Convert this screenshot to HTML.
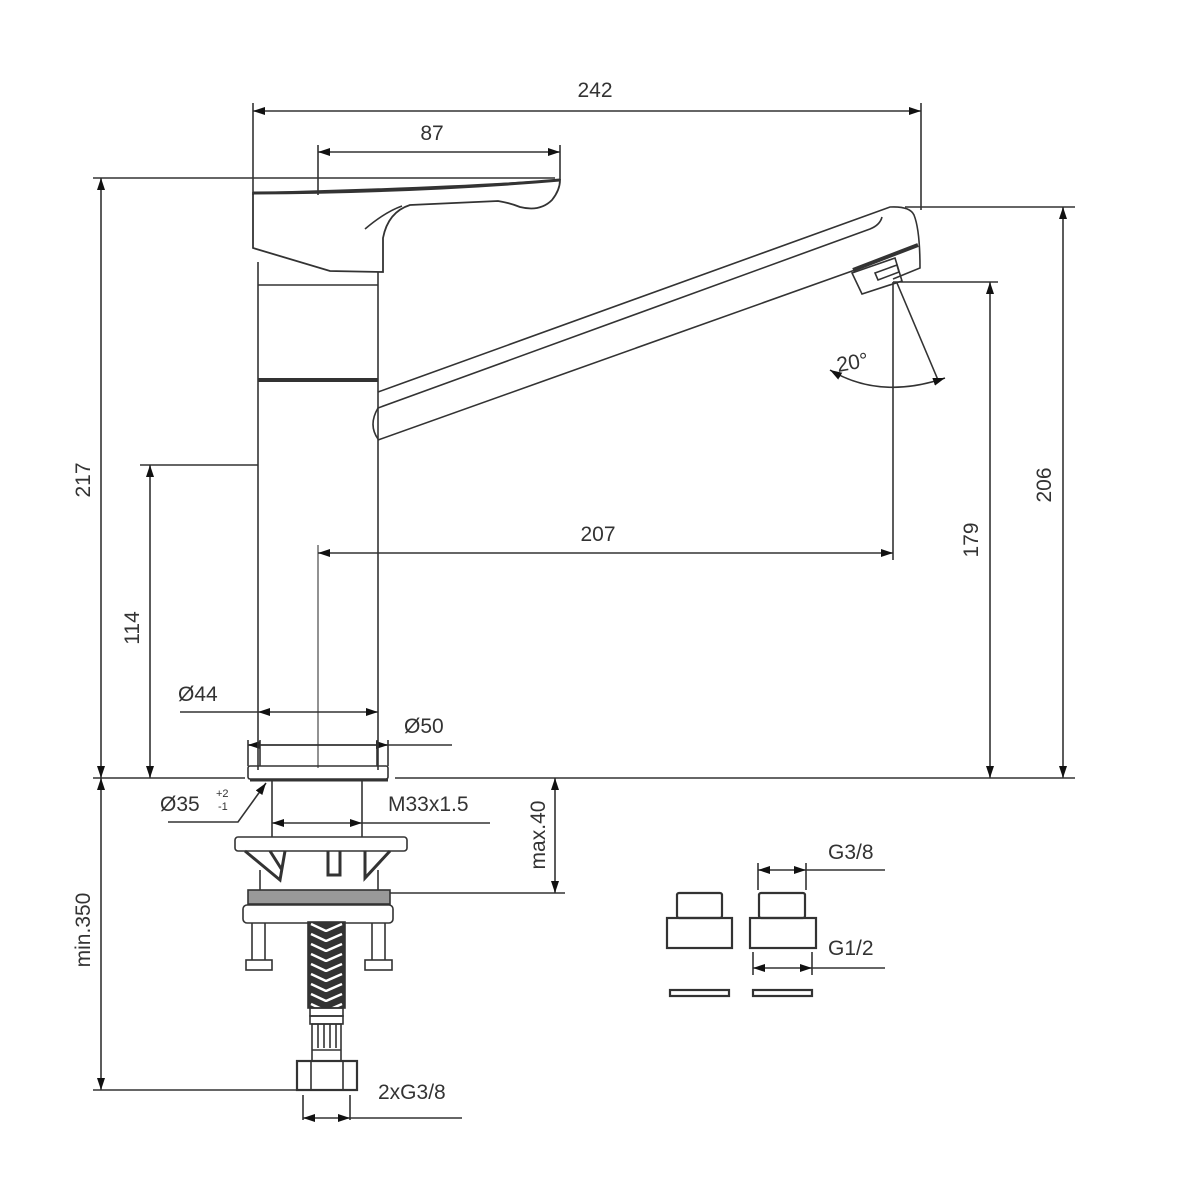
<!DOCTYPE html>
<html><head><meta charset="utf-8"><style>
html,body{margin:0;padding:0;background:#fff;}
svg{display:block;}
text{font-family:"Liberation Sans",sans-serif;font-size:21px;fill:#333;}
</style></head><body>
<svg width="1200" height="1200" viewBox="0 0 1200 1200" xmlns="http://www.w3.org/2000/svg">
<defs>
<marker id="a" viewBox="0 0 12 8" refX="12" refY="4" markerWidth="12" markerHeight="8" markerUnits="userSpaceOnUse" orient="auto-start-reverse"><path d="M0,0 L12,4 L0,8 z" fill="#111"/></marker>
<pattern id="braid" width="37" height="10" patternUnits="userSpaceOnUse" x="308" y="922">
<rect width="37" height="10" fill="#333"/>
<path d="M3,2 L18,9 L34,2" stroke="#fff" stroke-width="2.5" fill="none"/>
</pattern>
</defs>
<g stroke="#333" stroke-width="1.6" fill="none">
<line x1="253" y1="103" x2="253" y2="195"/>
<line x1="921" y1="103" x2="921" y2="210"/>
<line x1="253" y1="111" x2="921" y2="111" marker-start="url(#a)" marker-end="url(#a)"/>
<line x1="318" y1="145" x2="318" y2="195"/>
<line x1="560" y1="145" x2="560" y2="180"/>
<line x1="318" y1="152" x2="560" y2="152" marker-start="url(#a)" marker-end="url(#a)"/>
<line x1="93" y1="178" x2="555" y2="178"/>
<line x1="101" y1="178" x2="101" y2="778" marker-start="url(#a)" marker-end="url(#a)"/>
<line x1="140" y1="465" x2="258" y2="465"/>
<line x1="150" y1="465" x2="150" y2="778" marker-start="url(#a)" marker-end="url(#a)"/>
<line x1="905" y1="207" x2="1075" y2="207"/>
<line x1="1063" y1="207" x2="1063" y2="778" marker-start="url(#a)" marker-end="url(#a)"/>
<line x1="893" y1="282" x2="998" y2="282"/>
<line x1="990" y1="282" x2="990" y2="778" marker-start="url(#a)" marker-end="url(#a)"/>
<line x1="318" y1="545" x2="318" y2="768" stroke="#777"/>
<line x1="893" y1="282" x2="893" y2="560"/>
<line x1="318" y1="553" x2="893" y2="553" marker-start="url(#a)" marker-end="url(#a)"/>
<line x1="93" y1="778" x2="245" y2="778"/>
<line x1="395" y1="778" x2="1075" y2="778"/>
<line x1="101" y1="778" x2="101" y2="1090" marker-start="url(#a)" marker-end="url(#a)"/>
<line x1="93" y1="1090" x2="300" y2="1090"/>
<line x1="390" y1="893" x2="565" y2="893"/>
<line x1="555" y1="778" x2="555" y2="893" marker-start="url(#a)" marker-end="url(#a)"/>
<line x1="180" y1="712" x2="258" y2="712"/>
<line x1="258" y1="712" x2="378" y2="712" marker-start="url(#a)" marker-end="url(#a)"/>
<line x1="248" y1="745" x2="452" y2="745"/>
<line x1="248" y1="745" x2="388" y2="745" marker-start="url(#a)" marker-end="url(#a)"/>
<line x1="272" y1="823" x2="362" y2="823" marker-start="url(#a)" marker-end="url(#a)"/>
<line x1="362" y1="823" x2="490" y2="823"/>
<polyline points="168,822 238,822 266,783" marker-end="url(#a)"/>
<line x1="258" y1="262" x2="258" y2="770"/>
<line x1="378" y1="272" x2="378" y2="770"/>
<line x1="258" y1="285" x2="378" y2="285"/>
<line x1="258" y1="380" x2="378" y2="380" stroke-width="4"/>
<path d="M253,193 L253,248 L330,271 L383,272 L383,238 Q388,212 410,205 L498,201 Q510,203 520,207 Q540,212 552,200 Q560,190 560,180 Q450,188 253,193 z" stroke-width="1.8"/>
<path d="M253,193 Q420,192 560,180" stroke-width="3"/>
<path d="M365,229 Q385,212 402,206"/>
<path d="M378,392 L890,207 Q910,206 914,215 Q920,230 920,268 L893,279"/>
<path d="M378,408 L870,229 Q880,225 882,217"/>
<path d="M378,439 Q368,425 378,408"/>
<path d="M378,440 L855,270"/>
<line x1="853" y1="270" x2="918" y2="245" stroke-width="4"/>
<polygon points="852,273 895,258 902,281 862,294"/>
<polygon points="875,273 897,265 899,272 878,280"/>
<line x1="897" y1="283" x2="938" y2="380"/>
<path d="M830,370 Q880,400 945,378" marker-start="url(#a)" marker-end="url(#a)"/>
<rect x="248" y="766" width="140" height="13" rx="2"/>
<line x1="248" y1="740" x2="248" y2="766"/>
<line x1="388" y1="740" x2="388" y2="766"/>
<line x1="260" y1="740" x2="260" y2="766"/>
<line x1="377" y1="740" x2="377" y2="766"/>
<line x1="250" y1="780" x2="388" y2="780" stroke-width="3"/>
<line x1="272" y1="780" x2="272" y2="837"/>
<line x1="362" y1="780" x2="362" y2="837"/>
<rect x="235" y="837" width="172" height="14" rx="3"/>
<path d="M245,851 L280,880 L285,851 M270,851 L282,870" stroke-width="3"/>
<path d="M328,851 L328,875 L340,875 L340,851" stroke-width="3"/>
<path d="M365,851 L365,878 L390,851" stroke-width="3"/>
<line x1="260" y1="870" x2="260" y2="890"/>
<line x1="378" y1="870" x2="378" y2="890"/>
<rect x="248" y="890" width="142" height="14" fill="#999"/>
<rect x="243" y="905" width="150" height="18" rx="4"/>
<line x1="252" y1="923" x2="252" y2="960"/><line x1="265" y1="923" x2="265" y2="960"/>
<rect x="246" y="960" width="26" height="10"/>
<line x1="372" y1="923" x2="372" y2="960"/><line x1="385" y1="923" x2="385" y2="960"/>
<rect x="365" y="960" width="27" height="10"/>
<rect x="308" y="922" width="37" height="86" fill="url(#braid)"/>
<rect x="310" y="1008" width="33" height="8"/>
<rect x="310" y="1016" width="33" height="8"/>
<rect x="312" y="1024" width="29" height="37"/>
<line x1="318" y1="1024" x2="318" y2="1048"/><line x1="324" y1="1024" x2="324" y2="1048"/><line x1="330" y1="1024" x2="330" y2="1048"/><line x1="336" y1="1024" x2="336" y2="1048"/>
<line x1="312" y1="1050" x2="341" y2="1050"/>
<rect x="297" y="1061" width="60" height="29" stroke-width="2.2"/>
<line x1="311" y1="1061" x2="311" y2="1090"/><line x1="343" y1="1061" x2="343" y2="1090"/>
<line x1="303" y1="1095" x2="303" y2="1120"/><line x1="350" y1="1095" x2="350" y2="1120"/>
<line x1="303" y1="1118" x2="350" y2="1118" marker-start="url(#a)" marker-end="url(#a)"/>
<line x1="350" y1="1118" x2="462" y2="1118"/>
<g stroke-width="2.2">
<rect x="677" y="893" width="45" height="25" rx="2"/>
<rect x="667" y="918" width="65" height="30"/>
<rect x="759" y="893" width="46" height="25" rx="2"/>
<rect x="750" y="918" width="66" height="30"/>
<rect x="670" y="990" width="59" height="6"/>
<rect x="753" y="990" width="59" height="6"/>
</g>
<line x1="758" y1="863" x2="758" y2="890"/><line x1="806" y1="863" x2="806" y2="890"/>
<line x1="758" y1="870" x2="806" y2="870" marker-start="url(#a)" marker-end="url(#a)"/>
<line x1="806" y1="870" x2="885" y2="870"/>
<line x1="753" y1="952" x2="753" y2="975"/><line x1="812" y1="952" x2="812" y2="975"/>
<line x1="753" y1="968" x2="812" y2="968" marker-start="url(#a)" marker-end="url(#a)"/>
<line x1="812" y1="968" x2="885" y2="968"/>
</g>
<text x="595" y="97" text-anchor="middle">242</text>
<text x="432" y="140" text-anchor="middle">87</text>
<text x="598" y="541" text-anchor="middle">207</text>
<text transform="translate(90,480) rotate(-90)" text-anchor="middle">217</text>
<text transform="translate(139,628) rotate(-90)" text-anchor="middle">114</text>
<text transform="translate(1051,485) rotate(-90)" text-anchor="middle">206</text>
<text transform="translate(978,540) rotate(-90)" text-anchor="middle">179</text>
<text transform="translate(90,930) rotate(-90)" text-anchor="middle">min.350</text>
<text transform="translate(545,835) rotate(-90)" text-anchor="middle">max.40</text>
<text x="178" y="701">Ø44</text>
<text x="404" y="733">Ø50</text>
<text x="160" y="811">Ø35</text>
<text x="216" y="797" style="font-size:11px">+2</text>
<text x="218" y="810" style="font-size:11px">-1</text>
<text x="388" y="811">M33x1.5</text>
<text x="378" y="1099">2xG3/8</text>
<text x="828" y="859">G3/8</text>
<text x="828" y="955">G1/2</text>
<text transform="translate(838,372) rotate(-10)">20°</text>
</svg>
</body></html>
